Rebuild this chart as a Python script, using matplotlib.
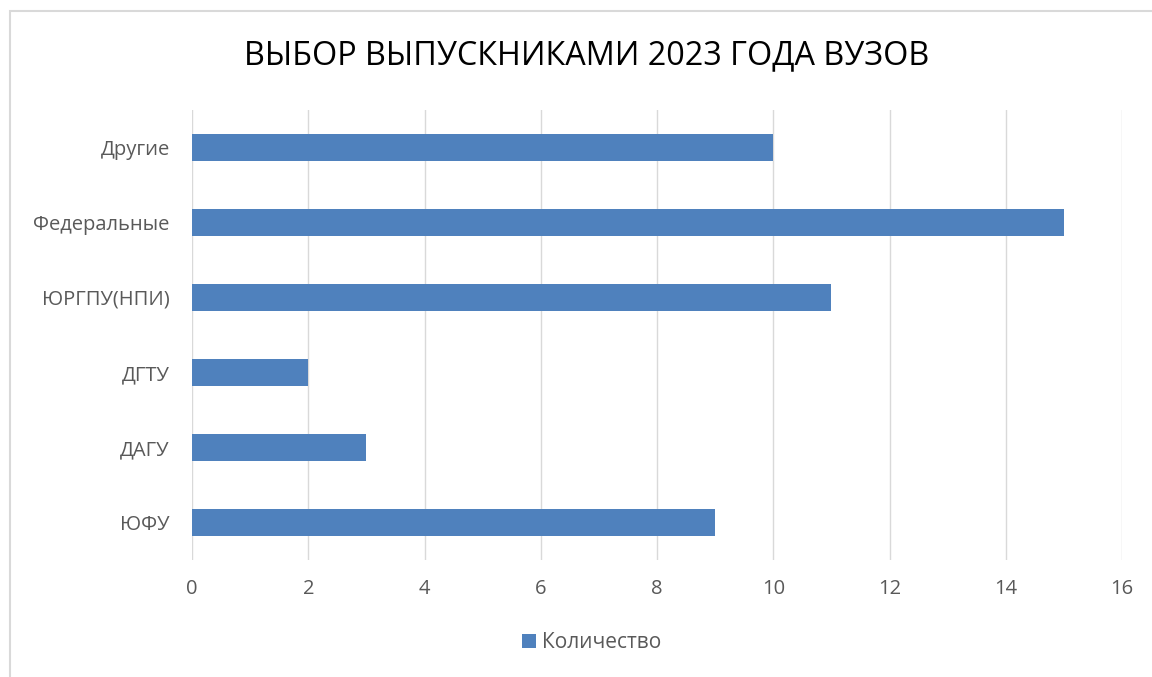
import matplotlib.pyplot as plt
from matplotlib.patches import Rectangle

# data
categories = ['ЮФУ', 'ДАГУ', 'ДГТУ', 'ЮРГПУ(НПИ)', 'Федеральные', 'Другие']
values = [9, 3, 2, 11, 15, 10]
series_name = 'Количество'
title = 'ВЫБОР ВЫПУСКНИКАМИ 2023 ГОДА ВУЗОВ'

plt.rcParams['font.family'] = ['Open Sans', 'DejaVu Sans']

fig = plt.figure(figsize=(11.52, 6.77), dpi=100)
ax = fig.add_axes([192 / 1152, 1 - 560 / 677, 930 / 1152, 450 / 677])

ax.barh(categories, values, height=0.35, color='#4F81BD', label=series_name, zorder=3)
ax.set_xlim(0, 16)
ax.set_ylim(-0.5, len(categories) - 0.5)
ax.set_xticks(range(0, 17, 2))
ax.grid(axis='x', color='#D9D9D9', linewidth=1, zorder=0)
for s in ax.spines.values():
    s.set_visible(False)
ax.tick_params(length=0, colors='#595959', labelsize=14.5)
ax.tick_params(axis='x', pad=14)
ax.tick_params(axis='y', pad=16)

fig.text(587 / 1152, 1 - 56 / 677, title, ha='center', va='center', fontsize=23.3, color='black')

leg = fig.legend(loc='center', bbox_to_anchor=(592 / 1152, 1 - 643 / 677), frameon=False,
                 fontsize=15, handlelength=0.65, handleheight=0.65, handletextpad=0.3)
for t in leg.get_texts():
    t.set_color('#595959')

# outer chart border
fig.patches.append(Rectangle((10 / 1152, -0.01), 1.02, 1 - 11 / 677 + 0.01,
                             transform=fig.transFigure, fill=False,
                             edgecolor='#D9D9D9', linewidth=1.5))

fig.savefig('out.png', dpi=100)
